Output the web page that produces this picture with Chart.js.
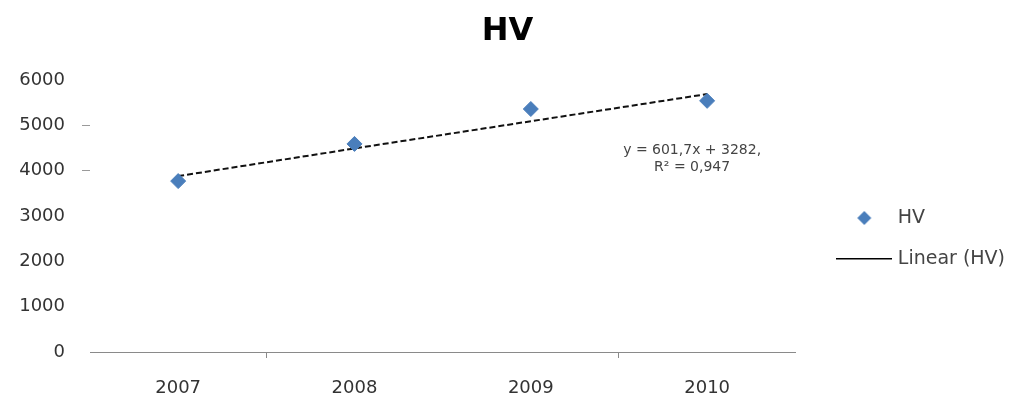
<!DOCTYPE html>
<html>
<head>
<meta charset="utf-8">
<script src="https://cdn.jsdelivr.net/npm/chart.js@4.4.0/dist/chart.umd.min.js"></script>
<style>
  html, body { margin: 0; padding: 0; background: #fff; }
  #wrap { width: 1015px; height: 397px; }
</style>
</head>
<body>
<div id="wrap"><canvas id="hv-chart"></canvas></div>
<script>
const years = ['2007', '2008', '2009', '2010']
const hvValues = [3770, 4590, 5360, 5540]
const trendValues = [3880, 4490, 5090, 5690]
const equationLines = ['y = 601,7x + 3282,', 'R² = 0,947']
const seriesNames = ['HV', 'Linear (HV)']

const FONT = "'DejaVu Sans', sans-serif"
const BLUE = '#4a7ebb'

// little pictures for the legend: a diamond and a long solid line
const legendMark = kind => {
    const c = document.createElement('canvas')
    c.width = 56
    c.height = 14
    const g = c.getContext('2d')
    if (kind === 'diamond') {
        g.fillStyle = BLUE
        g.beginPath()
        g.moveTo(28, 0); g.lineTo(35, 7); g.lineTo(28, 14); g.lineTo(21, 7)
        g.closePath()
        g.fill()
    } else {
        g.fillStyle = '#000'
        g.fillRect(0, 6, 56, 1.5)
    }
    return c
}
const legendMarks = [legendMark('diamond'), legendMark('line')]

// trendline equation text
const equationLabel = {
    id: 'equationLabel',
    afterDatasetsDraw(chart) {
        const {ctx, scales: {x, y}} = chart
        const cx = x.getPixelForValue(3) - 15
        const cy = y.getPixelForValue(4450)
        ctx.save()
        ctx.font = '14px ' + FONT
        ctx.fillStyle = '#444'
        ctx.textAlign = 'center'
        ctx.textBaseline = 'middle'
        ctx.fillText(equationLines[0], cx, cy)
        ctx.fillText(equationLines[1], cx, cy + 17)
        ctx.restore()
    }
}

new Chart(document.getElementById('hv-chart'), {
    type: 'line',
    data: {
        labels: years,
        datasets: [
            {
                label: seriesNames[0],
                data: hvValues,
                showLine: false,
                pointStyle: 'rectRot',
                pointRadius: 7.5,
                pointHoverRadius: 7.5,
                backgroundColor: BLUE,
                borderColor: BLUE,
                borderWidth: 1
            },
            {
                label: seriesNames[1],
                data: trendValues,
                borderColor: '#111',
                borderWidth: 2,
                borderDash: [6, 3],
                pointRadius: 0,
                fill: false,
                tension: 0
            }
        ]
    },
    options: {
        responsive: true,
        maintainAspectRatio: false,
        animation: false,
        layout: { padding: 0 },
        plugins: {
            title: {
                display: true,
                text: 'HV',
                color: '#000',
                font: { family: FONT, size: 32, weight: 'bold' },
                padding: { top: 12, bottom: 29.6 }
            },
            legend: {
                position: 'right',
                title: { display: true, text: '', font: { size: 10 }, padding: { top: 68, bottom: 0 } },
                labels: {
                    usePointStyle: true,
                    pointStyleWidth: 48,
                    boxHeight: 8,
                    padding: 22,
                    color: '#444',
                    font: { family: FONT, size: 19 },
                    generateLabels: chart => Chart.defaults.plugins.legend.labels.generateLabels(chart)
                        .map((item, i) => ({ ...item, pointStyle: legendMarks[i] }))
                }
            },
            tooltip: { enabled: false }
        },
        scales: {
            x: {
                offset: true,
                grid: {
                    offset: true,
                    drawOnChartArea: false,
                    tickLength: 6,
                    color: ctx => (ctx.index === 1 || ctx.index === 3) ? '#8a8a8a' : 'rgba(0,0,0,0)'
                },
                border: { display: true, color: '#8a8a8a', width: 1 },
                ticks: { color: '#333', font: { family: FONT, size: 18 }, padding: 20, maxRotation: 0 },
                afterFit: s => { s.height = 45 }
            },
            y: {
                min: 0,
                max: 6000,
                ticks: {
                    stepSize: 1000,
                    color: '#333',
                    font: { family: FONT, size: 18 },
                    padding: 17,
                    callback: v => String(v)
                },
                grid: {
                    drawOnChartArea: false,
                    tickLength: 8,
                    color: ctx => (ctx.tick && (ctx.tick.value === 4000 || ctx.tick.value === 5000)) ? '#9a9a9a' : 'rgba(0,0,0,0)'
                },
                border: { display: false },
                afterFit: s => { s.width = 90 }
            },
            gap: {
                position: 'right',
                display: false,
                afterFit: s => { s.width = 23 }
            }
        }
    },
    plugins: [equationLabel]
});
</script>
</body>
</html>
